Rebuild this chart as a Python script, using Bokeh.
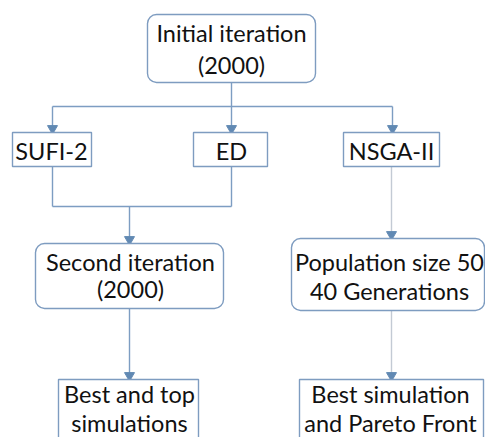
from bokeh.plotting import figure
from bokeh.models import Range1d
from bokeh.core.properties import value
from bokeh.embed import file_html
from bokeh.resources import INLINE

# ---- data: node labels ----
node_names = ["initial", "sufi", "ed", "nsga", "second", "population", "best_top", "best_sim"]
node_lines = [
    ["Initial iteration", "(2000)"],
    ["SUFI-2"],
    ["ED"],
    ["NSGA-II"],
    ["Second iteration", "(2000)"],
    ["Population size 50", "40 Generations"],
    ["Best and top", "simulations"],
    ["Best simulation", "and Pareto Front"],
]

# ---- layout (page pixel coordinates) ----
box_left = [147, 12, 193, 343, 35, 291, 58, 299]
box_right = [315, 91, 267, 439, 223, 484, 198, 483]
box_top = [14, 132, 132, 132, 243, 238, 379, 379]
box_bottom = [82, 166, 166, 166, 308, 310, 447, 447]
box_round = [True, False, False, False, True, True, False, False]
text_cx = [231, 51, 231, 391, 130, 389, 129, 390]
text_ys = [[32, 64], [150], [150], [150], [261, 288], [261, 290], [393, 422], [393, 422]]

blue_segs = [
    (231, 82, 231, 106), (52, 106, 392, 106), (52, 106, 52, 132), (231, 106, 231, 132),
    (392, 106, 392, 132), (52, 166, 52, 206), (231, 166, 231, 206), (52, 206, 231, 206),
    (129, 206, 129, 243), (129, 308, 129, 379),
]
gray_segs = [(391, 166, 391, 238), (391, 310, 391, 379)]
arrow_tips = [(52, 132), (231, 132), (392, 132), (129, 243), (129, 379), (391, 238), (391, 379)]

LINE = "#7d9dc2"
GRAY = "#c3cad4"
BORDER = "#7e9cc0"
HEAD = "#6189b3"
TXT = "#111111"
FONT = "Lato"

W, H = 485, 437
p = figure(width=W, height=H, output_backend="svg", toolbar_location=None,
           x_range=Range1d(0, W), y_range=Range1d(H, 0),
           min_border=0, outline_line_color=None)
p.axis.visible = False
p.grid.visible = False
p.background_fill_color = "white"

def segs(lst, color):
    p.segment(x0=[s[0] for s in lst], y0=[s[1] for s in lst],
              x1=[s[2] for s in lst], y1=[s[3] for s in lst],
              line_color=color, line_width=1.4)

segs(blue_segs, LINE)
segs(gray_segs, GRAY)

p.scatter(x=[a[0] for a in arrow_tips], y=[a[1] - 4 for a in arrow_tips],
          marker="inverted_triangle", size=10, fill_color=HEAD, line_color=HEAD)

for i in range(len(node_names)):
    rad = 9 if box_round[i] else 0
    p.quad(left=[box_left[i]], right=[box_right[i]], top=[box_top[i]], bottom=[box_bottom[i]],
           fill_color="white", line_color=BORDER, line_width=1.4, border_radius=rad)

xs, ys, ts = [], [], []
for i in range(len(node_names)):
    for t, y in zip(node_lines[i], text_ys[i]):
        xs.append(text_cx[i]); ys.append(y); ts.append(t)
p.text(x=xs, y=ys, text=ts, text_font=value(FONT), text_font_size="23.5px",
       text_color=TXT, text_align="center", text_baseline="middle")

open("out.html", "w").write(file_html(p, INLINE))
